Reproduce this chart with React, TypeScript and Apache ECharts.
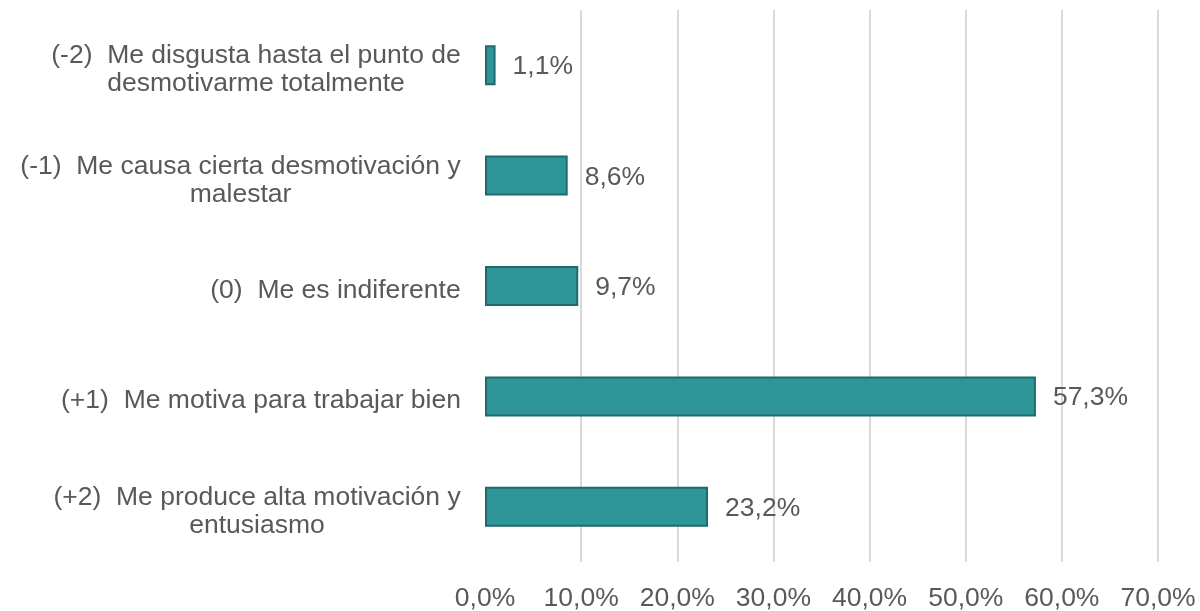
import React, { useEffect, useRef } from "react";
import * as echarts from "echarts";

const categories: string[] = [
  "(-2)  Me disgusta hasta el punto de\ndesmotivarme totalmente",
  "(-1)  Me causa cierta desmotivación y\nmalestar",
  "(0)  Me es indiferente",
  "(+1)  Me motiva para trabajar bien",
  "(+2)  Me produce alta motivación y\nentusiasmo",
];
const values: number[] = [1.1, 8.6, 9.7, 57.3, 23.2];
const tickValues: number[] = [0, 10, 20, 30, 40, 50, 60, 70];

const FONT_FAMILY = '"Liberation Sans", Arial, sans-serif';
const FONT_SIZE = 26.5;
const TEXT_COLOR = "#595959";

function measure(text: string): number {
  const c = document.createElement("canvas").getContext("2d");
  if (!c) return text.length * FONT_SIZE * 0.5;
  c.font = `${FONT_SIZE}px ${FONT_FAMILY}`;
  return c.measureText(text).width;
}

const fmt = (v: number) => v.toFixed(1).replace(".", ",") + "%";

export default function App() {
  const ref = useRef<HTMLDivElement>(null);
  useEffect(() => {
    if (!ref.current) return;
    const chart = echarts.init(ref.current, undefined, { renderer: "svg" });
    const rich: Record<string, any> = {};
    categories.forEach((cat, i) => {
      const w = Math.ceil(Math.max(...cat.split("\n").map(measure)));
      rich["w" + i] = {
        width: w,
        align: "center",
        fontSize: FONT_SIZE,
        fontFamily: FONT_FAMILY,
        color: TEXT_COLOR,
        lineHeight: 28,
      };
    });
    const gridColors = tickValues.map((t, i) => (i === 0 ? "rgba(0,0,0,0)" : "#D9D9D9"));
    chart.setOption({
      animation: false,
      grid: { left: 485, right: 42, top: 10, bottom: 49, containLabel: false },
      xAxis: {
        type: "value",
        min: 0,
        max: 70,
        interval: 10,
        axisLine: { show: false },
        axisTick: { show: false },
        splitLine: { show: true, lineStyle: { color: gridColors, width: 2 } },
        axisLabel: {
          formatter: (v: number) => fmt(v),
          fontSize: FONT_SIZE,
          fontFamily: FONT_FAMILY,
          color: TEXT_COLOR,
          margin: 21,
        },
      },
      yAxis: {
        type: "category",
        data: categories,
        inverse: true,
        axisLine: { show: false },
        axisTick: { show: false },
        axisLabel: {
          margin: 24,
          align: "right",
          padding: [6, 0, 0, 0],
          formatter: (v: string, idx: number) =>
            v
              .split("\n")
              .map((l) => `{w${idx}|${l}}`)
              .join("\n"),
          rich,
        },
      },
      series: [
        {
          type: "bar",
          data: values,
          barWidth: 40,
          itemStyle: { color: "#2E9599", borderColor: "#1F6A6C", borderWidth: 2 },
          label: {
            show: true,
            position: "right",
            distance: 17,
            formatter: (p: any) => fmt(p.value),
            fontSize: FONT_SIZE,
            fontFamily: FONT_FAMILY,
            color: TEXT_COLOR,
          },
        },
      ],
    });
    return () => chart.dispose();
  }, []);
  return (
    <div
      ref={ref}
      style={{ position: "fixed", left: 0, top: 0, width: 1200, height: 611 }}
    />
  );
}
